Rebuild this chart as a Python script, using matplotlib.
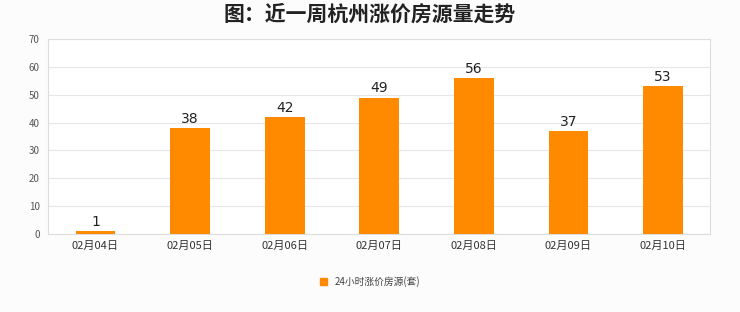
import matplotlib
matplotlib.use("Agg")
import matplotlib.pyplot as plt
from matplotlib.patches import Patch

plt.rcParams['font.family'] = ['Noto Sans CJK SC', 'DejaVu Sans']

categories = ["02月04日", "02月05日", "02月06日", "02月07日", "02月08日", "02月09日", "02月10日"]
values = [1, 38, 42, 49, 56, 37, 53]
series_name = "24小时涨价房源(套)"
title = "图：近一周杭州涨价房源量走势"

bar_color = "#FF8A00"

fig = plt.figure(figsize=(7.4, 3.12), dpi=100, facecolor="#fcfcfc")
ax = fig.add_axes([0.065, 0.25, 0.895, 0.625])
ax.set_facecolor("white")

x = range(len(categories))
bars = ax.bar(x, values, width=0.42, color=bar_color, zorder=3)
for xi, v in zip(x, values):
    ax.text(xi, v + 0.8, str(v), ha="center", va="bottom", fontsize=10,
            color="#222222", zorder=4, family="DejaVu Sans")

ax.set_xlim(-0.5, len(categories) - 0.5)
ax.set_ylim(0, 70)
ax.set_yticks(range(0, 71, 10))
ax.yaxis.grid(True, color="#e6e6e6", linewidth=0.8, zorder=0)
ax.set_xticks(list(x))
ax.set_xticklabels(categories, fontsize=8, color="#333333")
ax.tick_params(axis="y", labelsize=7, colors="#555555", length=0, pad=6)
ax.tick_params(axis="x", length=0, pad=5)
for s in ax.spines.values():
    s.set_color("#dddddd")
    s.set_linewidth(0.8)

fig.text(0.5, 0.955, title, ha="center", va="center", fontsize=15, fontweight="bold", color="#222222")

fig.legend(handles=[Patch(color=bar_color, label=series_name)], loc="center",
           bbox_to_anchor=(0.5, 0.098), frameon=False, fontsize=7,
           handlelength=0.7, handleheight=0.7, handletextpad=0.8, labelcolor="#444444")

fig.savefig("out.png", dpi=100, facecolor=fig.get_facecolor())
